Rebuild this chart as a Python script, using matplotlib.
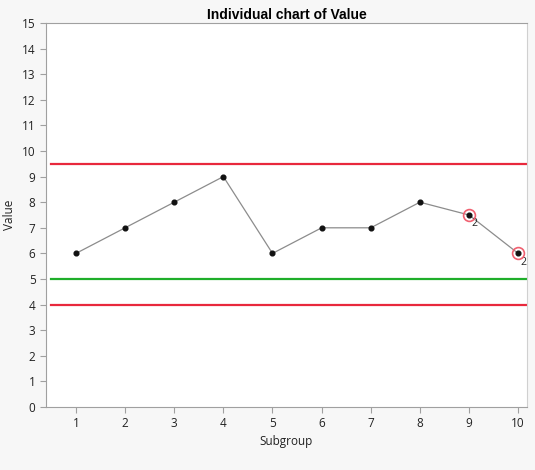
import numpy as np
import matplotlib
matplotlib.use("Agg")
import matplotlib.pyplot as plt

subgroups = [1, 2, 3, 4, 5, 6, 7, 8, 9, 10]
values = [6, 7, 8, 9, 6, 7, 7, 8, 7.5, 6]
ucl = 9.5
lcl = 4
center = 5
flagged = [9, 10]
flag_labels = ["2", "2"]

plt.rcParams['font.family'] = ['Open Sans', 'DejaVu Sans']

fig = plt.figure(figsize=(5.35, 4.7), dpi=100, facecolor='#f7f7f7')
ax = fig.add_axes([46/535, 63/470, 481/535, 384/470])
ax.set_facecolor('white')

ax.plot([0.5, 10.2], [ucl, ucl], color='#e8283c', lw=1.6, zorder=2)
ax.plot([0.5, 10.2], [lcl, lcl], color='#e8283c', lw=1.6, zorder=2)
ax.plot([0.5, 10.2], [center, center], color='#1fae2a', lw=1.6, zorder=2)

ax.plot(subgroups, values, color='#8c8c8c', lw=0.9, zorder=3)
ax.plot(subgroups, values, 'o', color='#111111', ms=3.4, zorder=4)

for s, lab in zip(flagged, flag_labels):
    v = values[subgroups.index(s)]
    ax.plot(s, v, 'o', ms=8.5, mfc='none', mec='#f06070', mew=1.2, zorder=5)
    ax.annotate(lab, (s, v), xytext=(1.5, -2.5), textcoords='offset points',
                fontsize=7.5, va='top', ha='left', color='#222222')

ax.set_xlim(0.39, 10.18)
ax.set_ylim(0, 15)
ax.set_xticks(subgroups)
ax.set_yticks(range(0, 16))
for sp in ax.spines.values():
    sp.set_color('#a0a0a0')
ax.spines['right'].set_color('#d0d0d0')
ax.tick_params(colors='#a0a0a0', labelcolor='#222222', labelsize=8.5, length=4)

ax.set_xlabel('Subgroup', fontsize=8.5, color='#222222', labelpad=3)
ax.set_ylabel('Value', fontsize=8.5, color='#222222', labelpad=4)
ax.set_title('Individual chart of Value', fontsize=10, fontweight='bold', pad=3,
             family=['Liberation Sans', 'DejaVu Sans'])

fig.savefig('out.png', dpi=100, facecolor=fig.get_facecolor())
